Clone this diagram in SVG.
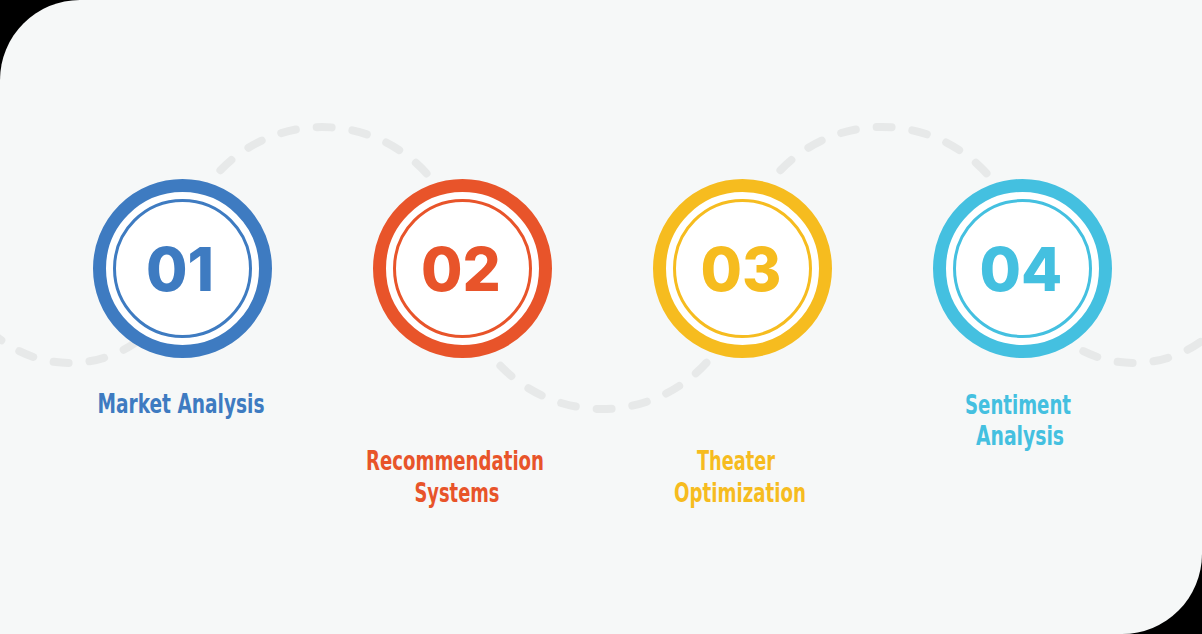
<svg xmlns="http://www.w3.org/2000/svg" width="1202" height="634" viewBox="0 0 1202 634">
<style>
.dash{fill:none;stroke:#e7e9e9;stroke-width:8;stroke-linecap:round;stroke-dasharray:15 21}
.ring{fill:#ffffff;stroke-width:13}
.thin{fill:none;stroke-width:3}
.num{font-family:Inter,"DejaVu Sans",sans-serif;font-weight:800;font-size:60px;text-anchor:middle}
.lbl{font-family:"DejaVu Sans Condensed","DejaVu Sans",sans-serif;font-weight:bold;font-size:26px;text-anchor:middle}
</style>
<rect x="0" y="0" width="1202" height="634" fill="#000000"/>
<path d="M80,0 H1202 V554 A80,80 0 0 1 1122,634 H0 V80 A80,80 0 0 1 80,0 Z" fill="#f6f8f8"/>
<g id="connectors">
<path class="dash" d="M-10,330.6 A115,115 0 0 0 150,330.6"/>
<path class="dash" d="M181,268 A141,141 0 0 1 463,268"/>
<path class="dash" d="M461,268 A141,141 0 0 0 743,268"/>
<path class="dash" d="M741,268 A141,141 0 0 1 1023,268"/>
<path class="dash" d="M1054,330.6 A115,115 0 0 0 1214,330.6"/>
</g>
<g id="node1">
<circle class="ring" cx="182.5" cy="268.5" r="83" stroke="#3e7bc1"/>
<circle class="thin" cx="182.5" cy="268.5" r="68" stroke="#3e7bc1"/>
<text class="num" x="180" y="291" fill="#3e7bc1">01</text>
<text class="lbl" x="181" y="413" fill="#3e7bc1" textLength="167" lengthAdjust="spacingAndGlyphs">Market Analysis</text>
</g>
<g id="node2">
<circle class="ring" cx="462.5" cy="268.5" r="83" stroke="#e8542a"/>
<circle class="thin" cx="462.5" cy="268.5" r="68" stroke="#e8542a"/>
<text class="num" x="461" y="291" fill="#e8542a">02</text>
<text class="lbl" x="455" y="470" fill="#e8542a" textLength="178" lengthAdjust="spacingAndGlyphs">Recommendation</text>
<text class="lbl" x="457" y="502" fill="#e8542a" textLength="85" lengthAdjust="spacingAndGlyphs">Systems</text>
</g>
<g id="node3">
<circle class="ring" cx="742.5" cy="268.5" r="83" stroke="#f6bc1f"/>
<circle class="thin" cx="742.5" cy="268.5" r="68" stroke="#f6bc1f"/>
<text class="num" x="741" y="291" fill="#f6bc1f">03</text>
<text class="lbl" x="736" y="470" fill="#f6bc1f" textLength="78" lengthAdjust="spacingAndGlyphs">Theater</text>
<text class="lbl" x="740" y="502" fill="#f6bc1f" textLength="132" lengthAdjust="spacingAndGlyphs">Optimization</text>
</g>
<g id="node4">
<circle class="ring" cx="1022.5" cy="268.5" r="83" stroke="#44c0e0"/>
<circle class="thin" cx="1022.5" cy="268.5" r="68" stroke="#44c0e0"/>
<text class="num" x="1021" y="291" fill="#44c0e0">04</text>
<text class="lbl" x="1018" y="414" fill="#44c0e0" textLength="106" lengthAdjust="spacingAndGlyphs">Sentiment</text>
<text class="lbl" x="1020" y="445" fill="#44c0e0" textLength="88" lengthAdjust="spacingAndGlyphs">Analysis</text>
</g>
</svg>
